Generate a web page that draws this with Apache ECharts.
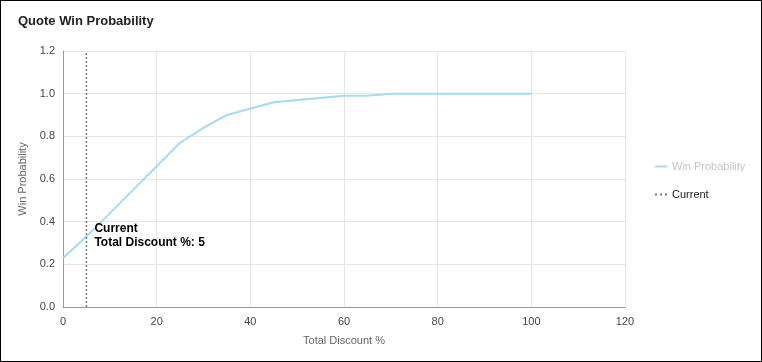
<!DOCTYPE html>
<html>
<head>
<meta charset="utf-8">
<script src="https://cdn.jsdelivr.net/npm/echarts@6/dist/echarts.min.js"></script>
<style>
html,body{margin:0;padding:0;background:#fff;}
#wrap{width:760px;height:360px;border:1px solid #000;position:relative;}
#chart{width:760px;height:360px;}
</style>
</head>
<body>
<div id="wrap"><div id="chart"></div></div>
<script>
const discount = [0, 5, 10, 15, 20, 25, 30, 35, 45, 60, 65, 70, 100];
const winProb  = [0.23, 0.33, 0.44, 0.55, 0.66, 0.77, 0.84, 0.90, 0.96, 0.99, 0.99, 1.0, 1.0];
const currentDiscount = 5;
const currentLabel = ['Current', 'Total Discount %: 5'];
const xTicks = {min: 0, max: 120, interval: 20};
const yTicks = {min: 0, max: 1.2, interval: 0.2};

const chart = echarts.init(document.getElementById('chart'), null, {renderer: 'canvas'});
const font = 'Liberation Sans, Arial, sans-serif';
chart.setOption({
  animation: false,
  title: {
    text: 'Quote Win Probability', left: 12, top: 9,
    textStyle: {fontFamily: font, fontSize: 13, fontWeight: 'bold', color: '#222'}
  },
  legend: {
    orient: 'vertical', left: 649, top: 155, itemGap: 17,
    itemWidth: 12, itemHeight: 2,
    textStyle: {fontFamily: font, fontSize: 11, color: '#222'},
    data: [
      {name: 'Win Probability', icon: 'rect', textStyle: {color: '#c6c6c6'}},
      {name: 'Current', icon: 'path://M0,0h2v2h-2z M5,0h2v2h-2z M10,0h2v2h-2z', textStyle: {color: '#222'}}
    ]
  },
  grid: {left: 62, right: 136, top: 50, bottom: 54},
  xAxis: {
    type: 'value', min: xTicks.min, max: xTicks.max, interval: xTicks.interval,
    name: 'Total Discount %', nameLocation: 'middle', nameGap: 28,
    nameTextStyle: {fontFamily: font, fontSize: 11, color: '#666'},
    axisLine: {lineStyle: {color: '#999'}},
    axisTick: {show: false},
    axisLabel: {fontFamily: font, fontSize: 11, color: '#444', margin: 9},
    splitLine: {show: true, lineStyle: {color: '#e6e6e6'}}
  },
  yAxis: {
    type: 'value', min: yTicks.min, max: yTicks.max, interval: yTicks.interval,
    name: 'Win Probability', nameLocation: 'middle', nameGap: 32,
    nameTextStyle: {fontFamily: font, fontSize: 11, color: '#666'},
    axisLine: {show: true, lineStyle: {color: '#999'}},
    axisTick: {show: false},
    axisLabel: {fontFamily: font, fontSize: 11, color: '#444', margin: 8,
      formatter: v => v.toFixed(1)},
    splitLine: {show: true, lineStyle: {color: '#e6e6e6'}}
  },
  series: [
    {
      name: 'Win Probability', type: 'line',
      data: discount.map((d, i) => [d, winProb[i]]),
      showSymbol: false, symbol: 'none',
      lineStyle: {color: '#a3dcf2', width: 2},
      itemStyle: {color: '#a3dcf2'}
    },
    {
      name: 'Current', type: 'line',
      data: [[currentDiscount, yTicks.min], [currentDiscount, yTicks.max]],
      symbol: 'none', showSymbol: false,
      lineStyle: {color: '#777', width: 1.5, type: [2, 2]},
      itemStyle: {color: '#777'},
      markPoint: {
        symbol: 'circle', symbolSize: 0, silent: true,
        data: [{coord: [currentDiscount, 0.335], value: 0}],
        label: {
          show: true, position: 'right', distance: 8,
          formatter: currentLabel.join('\n'),
          fontFamily: font, fontSize: 12, fontWeight: 'bold', color: '#000', lineHeight: 14, align: 'left'
        }
      }
    }
  ]
});
</script>
</body>
</html>
